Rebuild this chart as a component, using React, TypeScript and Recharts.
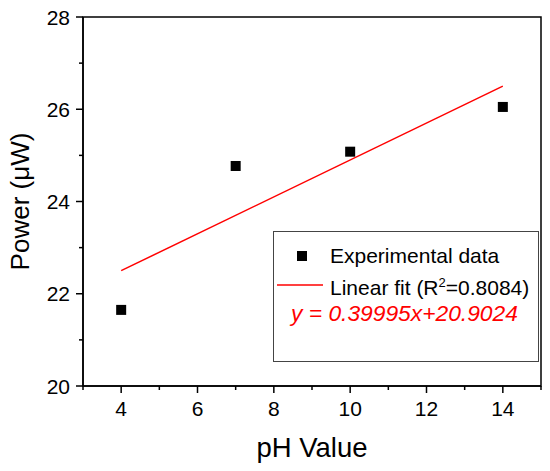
import {
  ComposedChart,
  Scatter,
  Line,
  XAxis,
  YAxis,
  ReferenceArea,
  Legend,
} from 'recharts'

const PH_VALUES = [4, 7, 10, 14]
const POWER_VALUES = [21.65, 24.77, 25.08, 26.05]

const FIT_X = [4, 14]
const FIT_Y = [22.5, 26.5]

const X_TICKS = [3, 4, 5, 6, 7, 8, 9, 10, 11, 12, 13, 14, 15]
const Y_TICKS = [20, 21, 22, 23, 24, 25, 26, 27, 28]

const FONT = '"Liberation Sans", Arial, sans-serif'
const RED = '#ff0000'

const measured = PH_VALUES.map((ph, i) => ({ ph, power: POWER_VALUES[i] }))
const fitLine = FIT_X.map((ph, i) => ({ ph, fit: FIT_Y[i] }))

function XTick({ x, y, payload }: any) {
  const major = payload.value % 2 === 0
  return (
    <g>
      <line x1={x} x2={x} y1={y} y2={y + (major ? 7 : 4)} stroke="#000" strokeWidth={1.5} />
      {major && (
        <text x={x} y={y + 30} textAnchor="middle" fontSize={21} fontFamily={FONT} fill="#000">
          {payload.value}
        </text>
      )}
    </g>
  )
}

function YTick({ x, y, payload }: any) {
  const major = payload.value % 2 === 0
  return (
    <g>
      <line x1={x - (major ? 7 : 4)} x2={x} y1={y} y2={y} stroke="#000" strokeWidth={1.5} />
      {major && (
        <text x={x - 13} y={y + 7.5} textAnchor="end" fontSize={21} fontFamily={FONT} fill="#000">
          {payload.value}
        </text>
      )}
    </g>
  )
}

function SquareDot({ cx, cy }: any) {
  return <rect x={cx - 5} y={cy - 5} width={10} height={10} fill="#000" />
}

function XLabel({ viewBox }: any) {
  return (
    <text
      x={viewBox.x + viewBox.width / 2}
      y={viewBox.y + 71}
      textAnchor="middle"
      fontSize={27.5}
      fontFamily={FONT}
      fill="#000"
    >
      pH Value
    </text>
  )
}

function YLabel({ viewBox }: any) {
  const cx = viewBox.x + 29
  const cy = viewBox.y + viewBox.height / 2
  return (
    <text
      x={cx}
      y={cy}
      transform={`rotate(-90 ${cx} ${cy})`}
      textAnchor="middle"
      fontSize={26}
      fontFamily={FONT}
      fill="#000"
    >
      Power (μW)
    </text>
  )
}

function LegendBox() {
  return (
    <div style={{ width: 266, height: 131, border: '1px solid #444', boxSizing: 'border-box', background: '#fff' }}>
      <svg width={264} height={129} style={{ display: 'block' }}>
        <rect x={23} y={19} width={10} height={10} fill="#000" />
        <text x={56} y={31} fontSize={21} fontFamily={FONT} fill="#000">
          Experimental data
        </text>
        <line x1={3} x2={49} y1={53} y2={53} stroke={RED} strokeWidth={1.5} />
        <text x={56} y={63} fontSize={21} fontFamily={FONT} fill="#000">
          Linear fit (R<tspan fontSize={13} dy={-8}>2</tspan>
          <tspan dy={8}>=0.8084)</tspan>
        </text>
        <text x={17} y={89} fontSize={22.8} fontStyle="italic" fontFamily={FONT} fill={RED}>
          y = 0.39995x+20.9024
        </text>
      </svg>
    </div>
  )
}

export default function App() {
  return (
    <div style={{ position: 'absolute', left: 0, top: 0, width: 550, height: 471, background: '#fff' }}>
      <ComposedChart width={550} height={471} margin={{ top: 17, right: 9, bottom: 0, left: 0 }}>
        <XAxis
          type="number"
          dataKey="ph"
          domain={[3, 15]}
          ticks={X_TICKS}
          interval={0}
          height={85}
          tickSize={0}
          tickMargin={0}
          tickLine={false}
          tick={<XTick />}
          axisLine={{ stroke: '#000', strokeWidth: 1.5 }}
          label={<XLabel />}
          allowDataOverflow
        />
        <YAxis
          type="number"
          domain={[20, 28]}
          ticks={Y_TICKS}
          interval={0}
          width={83}
          tickSize={0}
          tickMargin={0}
          tickLine={false}
          tick={<YTick />}
          axisLine={{ stroke: '#000', strokeWidth: 1.5 }}
          label={<YLabel />}
          allowDataOverflow
        />
        <ReferenceArea
          x1={3}
          x2={15}
          y1={20}
          y2={28}
          fill="none"
          fillOpacity={0}
          stroke="#000"
          strokeWidth={1.5}
          ifOverflow="visible"
        />
        <Line
          data={fitLine}
          dataKey="fit"
          type="linear"
          stroke={RED}
          strokeWidth={1.5}
          dot={false}
          activeDot={false}
          isAnimationActive={false}
        />
        <Scatter data={measured} dataKey="power" shape={<SquareDot />} isAnimationActive={false} />
        <Legend
          layout="vertical"
          align="center"
          verticalAlign="middle"
          content={() => <LegendBox />}
          wrapperStyle={{ position: 'absolute', left: 273, top: 231, width: 266, height: 131 }}
        />
      </ComposedChart>
    </div>
  )
}
